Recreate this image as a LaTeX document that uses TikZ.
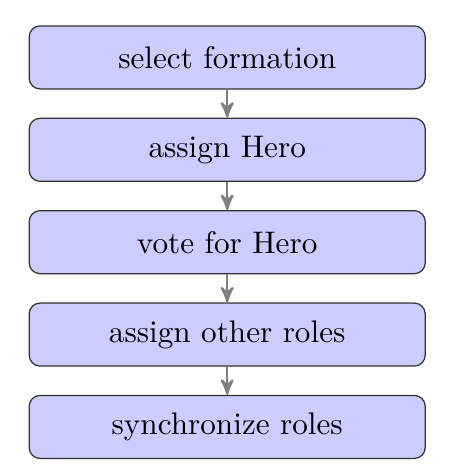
\documentclass[tikz,border=0pt]{standalone}
\usepackage{tikz}
\usetikzlibrary{arrows, positioning}

\begin{document}
\begin{tikzpicture}[node distance=9pt,auto]
  \tikzstyle{stage}=[rectangle,rounded corners=3.5pt,draw=black!80,fill=blue!20,
    minimum width=126.9pt,minimum height=20.2pt,inner sep=0pt]

  \useasboundingbox (0,0) rectangle (144.2pt,-150.6pt);

  \node[stage] (s_0) at (72.8pt,-18.4pt) {select formation};
  \node[stage] (s_1) [below=of s_0]      {assign Hero};
  \node[stage] (s_2) [below=of s_1]      {vote for Hero};
  \node[stage] (s_3) [below=of s_2]      {assign other roles};
  \node[stage] (s_4) [below=of s_3]      {synchronize roles};

  \path[-stealth',gray,thick]
  (s_0) edge (s_1)
  (s_1) edge (s_2)
  (s_2) edge (s_3)
  (s_3) edge (s_4)
  ;
\end{tikzpicture}
\end{document}
